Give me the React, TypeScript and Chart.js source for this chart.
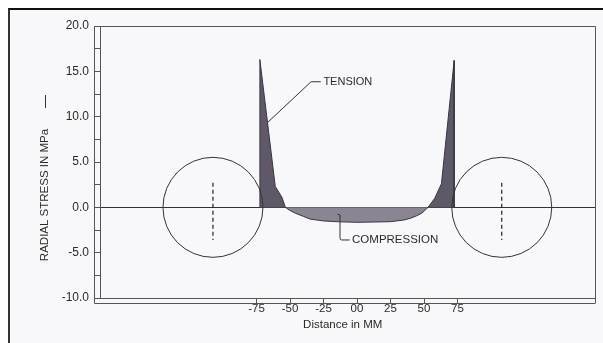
import React, { useEffect, useRef } from "react";
import { Chart, registerables } from "chart.js";

Chart.register(...registerables);

// Distance (mm) and radial stress (MPa) along the profile
const DISTANCE_MM = [-72.5, -72.5, -61, -56, -53.5, -50, -46, -40, -35, -25, -13, 0, 13, 25, 35, 40, 45, 48.5, 53, 58, 63, 72.5, 72.5];
const STRESS_MPA = [0, 16.3, 2.3, 1.1, 0, -0.35, -0.65, -1.0, -1.3, -1.5, -1.6, -1.65, -1.62, -1.58, -1.4, -1.2, -0.9, -0.63, 0, 1.0, 2.6, 16.2, 0];

// Roller circles (centre distance in mm) and their dashed centre lines
const ROLLER_CENTERS_MM = [-107.5, 108];
const ROLLER_DASH_TOP = 2.7;
const ROLLER_DASH_BOTTOM = -3.6;

// Axis ticks
const X_TICKS = [-75, -50, -25, 0, 25, 50, 75];
const X_TICK_LABELS = ["-75", "-50", "-25", "00", "25", "50", "75"];
const Y_MIN = -10;
const Y_MAX = 20;
const Y_STEP = 2.5;
const X_MIN = -191.8;
const X_MAX = 177.6;

const FONT = "'Liberation Sans', Arial, sans-serif";
const INK = "#2b2b2b";

const annotationPlugin = {
  id: "annotations",
  afterDraw(chart: any) {
    const { ctx, chartArea: a, scales } = chart;
    const xs = scales.x, ys = scales.y;
    const px = (v: number) => xs.getPixelForValue(v);
    const py = (v: number) => ys.getPixelForValue(v);
    ctx.save();
    ctx.strokeStyle = "#555";
    ctx.lineWidth = 1;
    // frame + ladder lines
    ctx.beginPath();
    ctx.moveTo(a.left - 6, a.top + 0.5);
    ctx.lineTo(a.right + 0.5, a.top + 0.5);
    ctx.lineTo(a.right + 0.5, a.bottom + 5.5);
    ctx.moveTo(a.left - 5.5, a.top);
    ctx.lineTo(a.left - 5.5, a.bottom + 5.5);
    ctx.lineTo(a.right, a.bottom + 5.5);
    ctx.stroke();

    // leaders
    ctx.strokeStyle = "#333";
    ctx.beginPath();
    ctx.moveTo(px(-66.4), py(9.4));
    ctx.lineTo(px(-34.3), py(13.85));
    ctx.lineTo(px(-27.1), py(13.85));
    ctx.moveTo(px(-14.5), py(-0.75));
    ctx.lineTo(px(-12.7), py(-0.85));
    ctx.lineTo(px(-12.7), py(-3.35));
    ctx.quadraticCurveTo(px(-12.7), py(-3.6), px(-11.5), py(-3.6));
    ctx.lineTo(px(-5.5), py(-3.6));
    ctx.stroke();

    ctx.fillStyle = INK;
    ctx.font = `11px ${FONT}`;
    ctx.textAlign = "left";
    ctx.textBaseline = "middle";
    ctx.fillText("TENSION", px(-25.1), py(13.85));
    ctx.font = `11.5px ${FONT}`;
    ctx.fillText("COMPRESSION", px(-3.7), py(-3.6));

    // x title
    ctx.textAlign = "center";
    ctx.fillText("Distance in MM", 332.7, 315);

    // y title
    ctx.save();
    ctx.translate(35, 185);
    ctx.rotate(-Math.PI / 2);
    ctx.fillText("RADIAL STRESS IN MPa", 0, 0);
    ctx.restore();
    ctx.strokeStyle = "#333";
    ctx.beginPath();
    ctx.moveTo(35.5, 85);
    ctx.lineTo(35.5, 98);
    ctx.stroke();
    ctx.restore();
  },
};

export default function App() {
  const ref = useRef<HTMLCanvasElement>(null);
  useEffect(() => {
    if (!ref.current) return;
    const profile = DISTANCE_MM.map((x, i) => ({ x, y: STRESS_MPA[i] }));
    const datasets: any[] = [
      {
        type: "line",
        data: profile,
        borderColor: "#3a3441",
        borderWidth: 1,
        pointRadius: 0,
        tension: 0,
        fill: { target: "origin", above: "#5f5868", below: "#8a8591" },
        order: 2,
      },
      {
        type: "bubble",
        data: ROLLER_CENTERS_MM.map((x) => ({ x, y: 0, r: 50 })),
        backgroundColor: "rgba(0,0,0,0)",
        borderColor: "#333",
        borderWidth: 1,
        order: 1,
      },
      ...ROLLER_CENTERS_MM.map((x) => ({
        type: "line",
        data: [
          { x, y: ROLLER_DASH_TOP },
          { x, y: ROLLER_DASH_BOTTOM },
        ],
        borderColor: "#222",
        borderWidth: 1.2,
        borderDash: [4, 3],
        pointRadius: 0,
        fill: false,
        order: 0,
      })),
    ];
    const chart = new Chart(ref.current, {
      type: "line",
      data: { datasets },
      options: {
        animation: false,
        responsive: false,
        events: [],
        layout: { autoPadding: false, padding: { left: 0, top: 16, right: 8, bottom: 0 } },
        plugins: { legend: { display: false }, tooltip: { enabled: false } },
        scales: {
          x: {
            type: "linear",
            min: X_MIN,
            max: X_MAX,
            afterBuildTicks: (s: any) => {
              s.ticks = X_TICKS.map((v) => ({ value: v }));
            },
            afterFit: (s: any) => {
              s.height = 45;
            },
            ticks: {
              autoSkip: false,
              maxRotation: 0,
              padding: -1,
              color: INK,
              font: { family: FONT, size: 11.5 },
              callback: (v: any) => {
                const i = X_TICKS.indexOf(Number(v));
                return i >= 0 ? X_TICK_LABELS[i] : "";
              },
            },
            grid: { drawOnChartArea: false, tickLength: 5, tickColor: "#555" },
            border: { display: true, color: "#555" },
          },
          y: {
            type: "linear",
            min: Y_MIN,
            max: Y_MAX,
            afterFit: (s: any) => {
              s.width = 90;
            },
            ticks: {
              stepSize: Y_STEP,
              autoSkip: false,
              padding: 5,
              color: INK,
              font: { family: FONT, size: 12 },
              callback: (v: any) => (Number(v) % 5 === 0 ? Number(v).toFixed(1) : ""),
            },
            grid: {
              drawOnChartArea: true,
              color: (c: any) => (c.tick && c.tick.value === 0 ? "#333" : "rgba(0,0,0,0)"),
              tickLength: 6,
              tickColor: "#555",
            },
            border: { display: true, color: "#555" },
          },
        },
      },
      plugins: [annotationPlugin],
    } as any);
    return () => chart.destroy();
  }, []);
  return (
    <div
      style={{
        position: "fixed",
        left: 8,
        top: 8,
        width: 595,
        height: 335,
        borderTop: "2px solid #111",
        borderLeft: "2px solid #333",
        background: "#f8f8fb",
      }}
    >
      <canvas ref={ref} width={593} height={333} style={{ display: "block", width: 593, height: 333 }} />
    </div>
  );
}
